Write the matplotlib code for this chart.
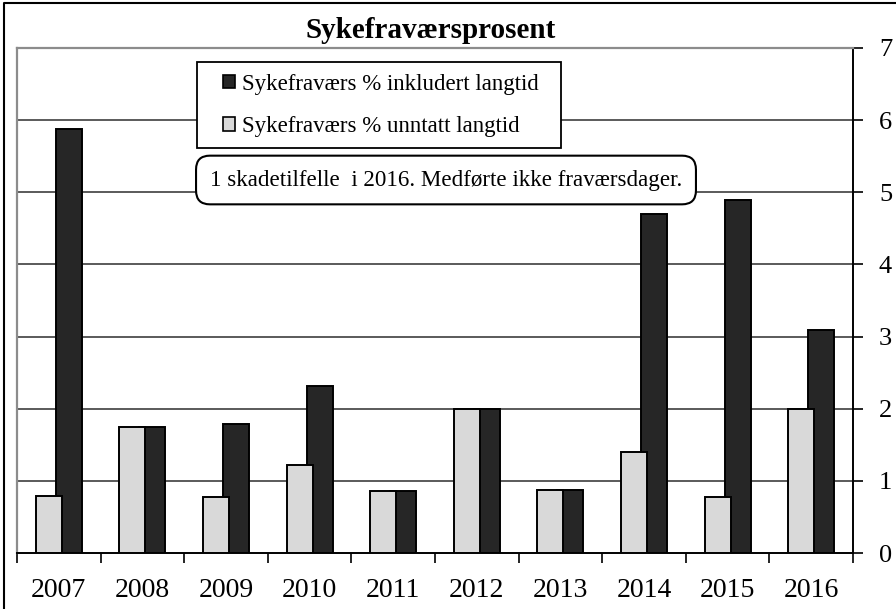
import matplotlib
matplotlib.use("Agg")
import matplotlib.pyplot as plt
from matplotlib.patches import Rectangle, Patch
from matplotlib.lines import Line2D
import numpy as np

years = ["2007", "2008", "2009", "2010", "2011", "2012", "2013", "2014", "2015", "2016"]
incl_long = [5.88, 1.75, 1.79, 2.32, 0.86, 2.00, 0.88, 4.70, 4.90, 3.09]
excl_long = [0.79, 1.75, 0.78, 1.22, 0.86, 2.00, 0.88, 1.40, 0.77, 2.00]
y_ticks = [0, 1, 2, 3, 4, 5, 6, 7]
title = "Sykefraværsprosent"
label_incl = "Sykefraværs % inkludert langtid"
label_excl = "Sykefraværs % unntatt langtid"
note = "1 skadetilfelle  i 2016. Medførte ikke fraværsdager."

plt.rcParams['font.family'] = ['Liberation Serif', 'DejaVu Serif']

W, H = 896, 609
fig = plt.figure(figsize=(W / 100, H / 100), dpi=100)
fig.patch.set_facecolor('white')
fig.patch.set_linewidth(0)

def fx(px):
    return px / W

def fy(py):
    return 1 - py / H

ax = fig.add_axes([fx(17), fy(553), fx(853) - fx(17), fy(48) - fy(553)])

x = np.arange(len(years))
dark = "#262626"
light = "#d9d9d9"
bw = 0.31
off = 0.12
ax.bar(x + off, incl_long, width=bw, color=dark, edgecolor='black', linewidth=1.4, zorder=2)
ax.bar(x - off, excl_long, width=bw, color=light, edgecolor='black', linewidth=1.4, zorder=3)

ax.set_xlim(-0.5, len(years) - 0.5)
ax.set_ylim(0, 7)

# gridlines
for v in y_ticks[1:-1]:
    ax.axhline(v, color='#5a5a5a', linewidth=1.4, zorder=1)

# spines
for s in ['left', 'top']:
    ax.spines[s].set_color('#8c8c8c')
    ax.spines[s].set_linewidth(1.6)
ax.spines['right'].set_color('black')
ax.spines['right'].set_linewidth(1.4)
ax.spines['bottom'].set_color('black')
ax.spines['bottom'].set_linewidth(1.4)

# y axis on right
ax.yaxis.tick_right()
ax.set_yticks(y_ticks)
ax.set_yticklabels([str(v) for v in y_ticks])
ax.tick_params(axis='y', which='major', direction='out', length=7.2, width=1.2,
               labelsize=19, pad=11.5, left=False, right=True, labelleft=False, labelright=True)

# x ticks at category boundaries, labels at centers
ax.set_xticks(np.arange(-0.5, len(years), 1.0))
ax.set_xticklabels([])
ax.set_xticks(x, minor=True)
ax.set_xticklabels(years, minor=True)
ax.tick_params(axis='x', which='major', direction='out', length=7.2, width=1.2)
ax.tick_params(axis='x', which='minor', length=0, labelsize=20, pad=18)

# title
fig.text(fx(431), fy(30), title, ha='center', va='center', fontsize=21, fontweight='bold')

# legend frame + legend
fig.patches.append(Rectangle((fx(197), fy(148)), fx(561) - fx(197), fy(62) - fy(148),
                             transform=fig.transFigure, facecolor='white', edgecolor='black',
                             linewidth=1.3, zorder=4))
handles = [Patch(facecolor=dark, edgecolor='black', linewidth=1.2),
           Patch(facecolor=light, edgecolor='black', linewidth=1.2)]
leg = fig.legend(handles, [label_incl, label_excl], loc='upper left',
                 bbox_to_anchor=(fx(218), fy(69)), frameon=False, fontsize=16.5,
                 handlelength=0.55, handleheight=0.55, handletextpad=0.3,
                 labelspacing=0.95, borderpad=0.2, borderaxespad=0)
leg.set_zorder(5)

# note box
fig.text(fx(446), fy(180), note, ha='center', va='center', fontsize=16.6, zorder=6,
         bbox=dict(boxstyle='round,pad=0.6,rounding_size=0.6', facecolor='white',
                   edgecolor='black', linewidth=1.5))

# outer chart border (cropped at right/bottom)
fig.add_artist(Line2D([fx(4), fx(4), 1.0], [0.0, fy(3), fy(3)], transform=fig.transFigure,
                      color='black', linewidth=1.5, zorder=0))

fig.savefig("out.png", dpi=100)
